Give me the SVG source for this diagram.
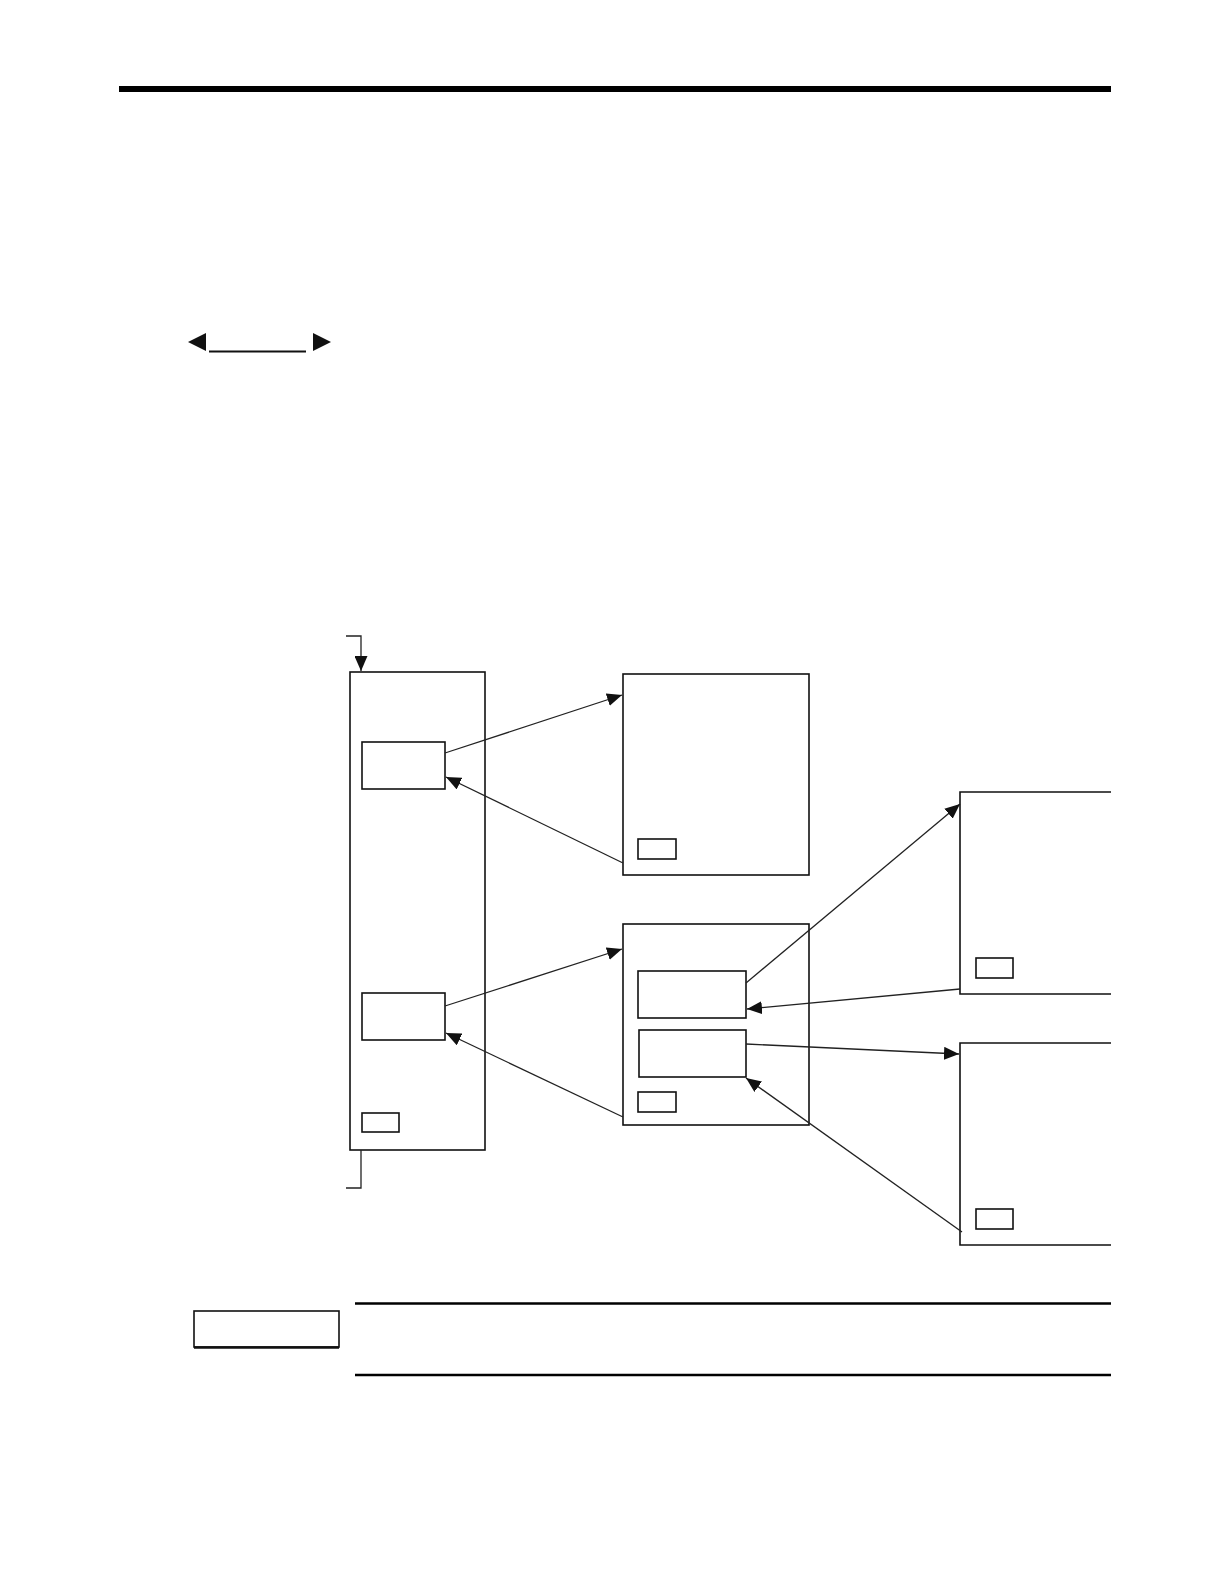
<svg xmlns="http://www.w3.org/2000/svg" width="1224" height="1584" viewBox="0 0 1224 1584">
  <style>
    .box { fill: none; stroke: #111; stroke-width: 1.6; }
    .conn { fill: none; stroke: #222; stroke-width: 1.3; }
    .rule { stroke: #000; }
  </style>
  <defs>
    <marker id="arr" markerUnits="userSpaceOnUse" markerWidth="16" markerHeight="13" refX="15" refY="6.5" orient="auto">
      <path d="M0,0 L15,6.5 L0,13 Z" fill="#111"/>
    </marker>
  </defs>
  <rect width="1224" height="1584" fill="#fff"/>

  <!-- header rule -->
  <rect x="119" y="86" width="992" height="6" fill="#000"/>

  <!-- double arrow legend -->
  <g id="legend-arrow">
    <path d="M188,342 L206,333 L206,351 Z" fill="#111"/>
    <line x1="209" y1="351.5" x2="306" y2="351.5" stroke="#111" stroke-width="2"/>
    <path d="M331,342 L313,333 L313,351 Z" fill="#111"/>
  </g>

  <!-- nodes -->
  <g id="main-block">
    <rect class="box" x="350" y="672" width="135" height="478"/>
  </g>
  <g id="main-inner-upper">
    <rect class="box" x="362" y="742" width="83" height="47"/>
  </g>
  <g id="main-inner-lower">
    <rect class="box" x="362" y="993" width="83" height="47"/>
  </g>
  <g id="main-tag">
    <rect class="box" x="362" y="1113" width="37" height="19"/>
  </g>

  <g id="sub-block-top">
    <rect class="box" x="623" y="674" width="186" height="201"/>
    <rect class="box" x="638" y="839" width="38" height="20"/>
  </g>

  <g id="sub-block-mid">
    <rect class="box" x="623" y="924" width="186" height="201"/>
  </g>
  <g id="sub-mid-inner-1">
    <rect class="box" x="638" y="971" width="108" height="47"/>
  </g>
  <g id="sub-mid-inner-2">
    <rect class="box" x="639" y="1030" width="107" height="47"/>
  </g>
  <g id="sub-mid-tag">
    <rect class="box" x="638" y="1092" width="38" height="20"/>
  </g>

  <g id="right-block-top">
    <path class="box" d="M1111,792 L960,792 L960,994 L1111,994"/>
    <rect class="box" x="976" y="958" width="37" height="20"/>
  </g>

  <g id="right-block-bottom">
    <path class="box" d="M1111,1043 L960,1043 L960,1245 L1111,1245"/>
    <rect class="box" x="976" y="1209" width="37" height="20"/>
  </g>

  <!-- connectors -->
  <g id="connectors">
    <path class="conn" d="M346,636 L361,636 L361,671" marker-end="url(#arr)"/>
    <path class="conn" d="M361,1150 L361,1188 L346,1188"/>
    <path class="conn" d="M445,753 L622,695" marker-end="url(#arr)"/>
    <path class="conn" d="M623,863 L446,777" marker-end="url(#arr)"/>
    <path class="conn" d="M445,1006 L622,949" marker-end="url(#arr)"/>
    <path class="conn" d="M623,1117 L446,1033" marker-end="url(#arr)"/>
    <path class="conn" d="M746,983 L960,804" marker-end="url(#arr)"/>
    <path class="conn" d="M960,989 L747,1009" marker-end="url(#arr)"/>
    <path class="conn" d="M746,1044 L959,1054" marker-end="url(#arr)"/>
    <path class="conn" d="M962,1232 L746,1078" marker-end="url(#arr)"/>
  </g>

  <!-- note block -->
  <g id="note-label">
    <rect class="box" x="194" y="1311" width="145" height="36"/>
    <line x1="194" y1="1347.5" x2="339" y2="1347.5" stroke="#111" stroke-width="2.5"/>
  </g>
  <line class="rule" x1="355" y1="1303.5" x2="1111" y2="1303.5" stroke-width="2.5"/>
  <line class="rule" x1="355" y1="1375" x2="1111" y2="1375" stroke-width="2.5"/>
</svg>
